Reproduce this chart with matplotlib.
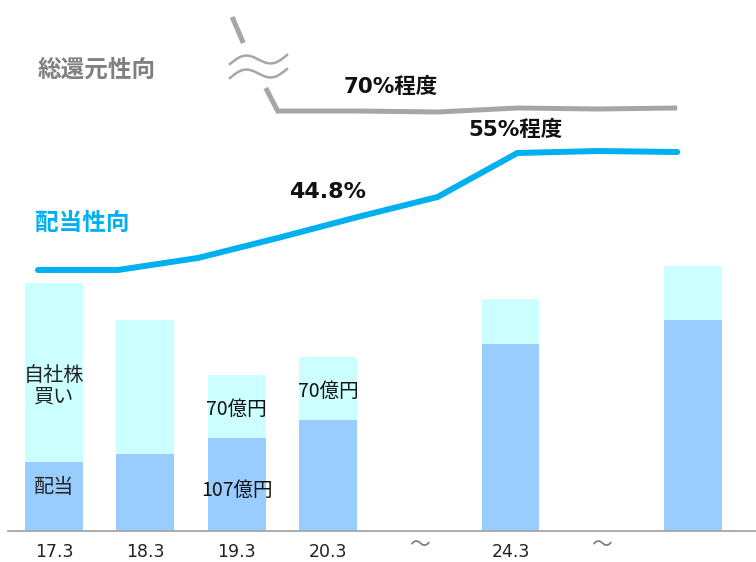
import numpy as np
import matplotlib.pyplot as plt

plt.rcParams['font.family'] = ['DejaVu Sans', 'Noto Sans CJK JP']
JP = 'Noto Sans CJK JP'

# bar data (億円)
periods = ['17.3', '18.3', '19.3', '20.3', '', '24.3', '', '']
bar_pos = [0, 1, 2, 3, 5, 7]
dividend = [79, 89, 107, 128, 215, 243]
buyback = [206, 154, 72, 72, 52, 62]
skip_pos = [4, 6]

# payout ratio lines (schematic height above baseline)
line_idx = [0, 1, 2, 3, 4, 5, 6, 7, 8]
payout_level = [261, 261, 273, 293, 314, 334, 378, 380, 379]
total_idx = [2.43, 2.57, np.nan, 2.85, 3, 4, 5, 6, 7, 8]
total_level = [514, 488, np.nan, 443, 420, 420, 419, 423, 422, 423]

c_div = '#99CCFF'
c_buy = '#CCFFFF'
c_blue = '#00B0F0'
c_gray = '#A6A6A6'

W, H = 756, 562
fig = plt.figure(figsize=(W / 100, H / 100), dpi=100)

# bar axes: baseline at 531px, 91.3px per slot
ax = fig.add_axes([0, 0, 1, 1])
k = 1.1505
ax.set_xlim(-54 / 91.3, (W - 54) / 91.3)
ax.set_ylim(-(H - 531) * k, 531 * k)
ax.axis('off')

ax.bar(bar_pos, dividend, width=0.635, color=c_div, zorder=2)
ax.bar(bar_pos, buyback, bottom=dividend, width=0.635, color=c_buy, zorder=2)
ax.axhline(0, xmin=8 / W, xmax=1, color=c_gray, lw=1.3, zorder=3)

for i, p in enumerate(periods):
    if p:
        ax.text(i, -(H - 531) * k + 1, p, ha='center', va='bottom', fontsize=12.5,
                family='DejaVu Sans', color='#222222')
for s in skip_pos:
    ax.text(s, -16, '～', ha='center', va='center', fontsize=15,
            family=JP, color='#7F7F7F')

ax.text(0, 166, '自社株\n買い', ha='center', va='center', fontsize=14.5,
        family=JP, color='#222222', linespacing=1.05)
ax.text(0, 49.5, '配当', ha='center', va='center', fontsize=14.5,
        family=JP, color='#222222')
ax.text(2, 140, '70億円', ha='center', va='center', fontsize=14,
        family=JP, color='#111111')
ax.text(3, 161, '70億円', ha='center', va='center', fontsize=14,
        family=JP, color='#111111')
ax.text(2, 47, '107億円', ha='center', va='center', fontsize=14,
        family=JP, color='#111111')

# line axes: 9 points, 79.9px apart starting at 38px
ax2 = fig.add_axes([0, 0, 1, 1])
ax2.patch.set_alpha(0)
ax2.set_xlim(-38 / 79.9, (W - 38) / 79.9)
ax2.set_ylim(-(H - 531), 531)
ax2.axis('off')

ax2.plot(line_idx, payout_level, color=c_blue, lw=4.3,
         solid_capstyle='round', solid_joinstyle='round')
ax2.plot(total_idx, total_level, color=c_gray, lw=3.6,
         solid_capstyle='butt', solid_joinstyle='miter')

# break mark on the total return line
t = np.linspace(0, 1, 60)
for y0 in (64, 78):
    xs = 230 + 57 * t
    ys = y0 - 9 * t - 6 * np.sin(2 * np.pi * t)
    ax2.plot(xs / W, 1 - ys / H, transform=fig.transFigure,
             color=c_gray, lw=1.8)

ax2.text(0.73, 461, '総還元性向', ha='center', va='center', fontsize=17,
         family=JP, weight='bold', color='#808080')
ax2.text(0.56, 308, '配当性向', ha='center', va='center', fontsize=17,
         family=JP, weight='bold', color=c_blue)
ax2.text(4.42, 444, '70%程度', ha='center', va='center', fontsize=15.5,
         weight='bold', color='#111111')
ax2.text(5.98, 401, '55%程度', ha='center', va='center', fontsize=15.5,
         weight='bold', color='#111111')
ax2.text(3.63, 339, '44.8%', ha='center', va='center', fontsize=16,
         weight='bold', color='#111111')

fig.savefig('out.png', dpi=100)
